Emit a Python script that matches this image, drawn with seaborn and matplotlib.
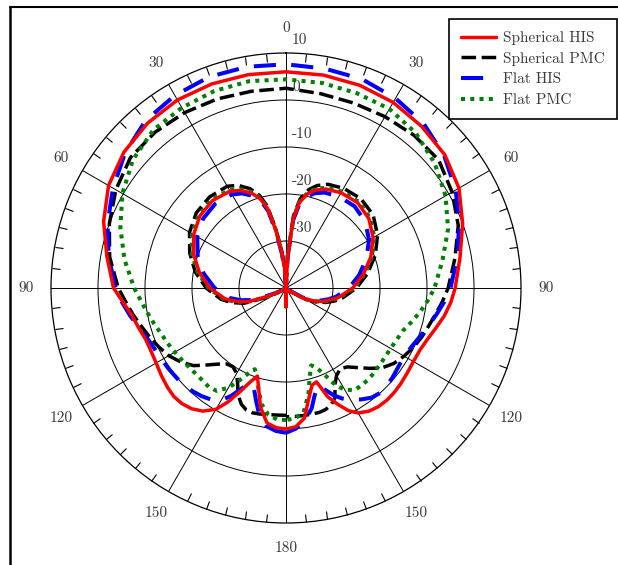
import numpy as np
import matplotlib
matplotlib.use("Agg")
import matplotlib.pyplot as plt
import matplotlib.transforms as mtransforms
from matplotlib.lines import Line2D
from matplotlib.ticker import FixedLocator
import seaborn as sns

# ---------------------------------------------------------------
# Radiation patterns (gain in dB) versus angle in degrees,
# 0 = broadside, positive angles to the right.
# ---------------------------------------------------------------
theta_main = [-180, -176, -172, -168, -165, -162, -159, -156, -153, -150,
              -146, -142, -138, -134, -130, -125, -120, -115, -110, -105,
              -100, -95, -90, -80, -70, -60, -50, -40, -30, -20, -10, 0,
              10, 20, 30, 40, 50, 60, 70, 80, 90, 95, 100, 105, 110, 115,
              120, 125, 130, 134, 138, 142, 146, 150, 153, 156, 159, 162,
              165, 168, 172, 176, 180]

sph_his_main = [-10.0, -10.2, -11.0, -14.0, -17.6, -20.3, -18.5, -15.8, -12.8, -10.2,
                -8.4, -7.4, -6.9, -6.8, -7.1, -7.6, -8.1, -8.3, -8.2, -7.5,
                -6.7, -5.2, -3.3, -1.3, 1.3, 3.6, 5.0, 5.8, 6.2, 6.2, 6.1, 6.0,
                6.0, 5.9, 5.6, 4.9, 4.1, 2.5, 0.0, -2.4, -4.0, -4.8, -5.8, -7.0, -8.0, -8.6,
                -8.7, -8.5, -8.2, -8.0, -7.9, -8.0, -8.4, -9.3, -10.7, -12.9, -15.2, -19.0,
                -18.6, -16.3, -12.0, -10.4, -10.0]

sph_pmc_main = [-12.9, -12.9, -12.8, -12.6, -12.5, -12.7, -13.5, -15.0, -17.3, -19.0,
                -19.8, -19.5, -18.2, -16.4, -14.3, -12.6, -11.2, -10.2, -9.2, -8.2,
                -7.0, -5.8, -4.3, -1.9, 0.0, 1.8, 3.2, 3.3, 3.1, 2.8, 2.5, 2.5,
                2.0, 1.9, 2.1, 2.4, 2.4, 0.8, -1.0, -3.5, -5.5, -6.6, -7.7, -8.6, -9.3, -10.1,
                -11.0, -12.0, -13.5, -15.4, -17.2, -18.7, -19.3, -18.5, -17.0, -14.4, -13.3, -12.8,
                -12.6, -12.6, -12.6, -12.6, -12.6]

flat_his_main = [-9.2, -9.5, -10.3, -12.5, -15.3, -17.8, -18.3, -16.5, -14.2, -12.5,
                 -11.4, -10.8, -10.4, -10.1, -9.9, -9.7, -9.5, -9.2, -8.6, -7.6,
                 -6.3, -5.0, -3.7, -1.7, 0.4, 2.5, 4.7, 6.5, 7.3, 7.8, 7.8, 7.6,
                 7.4, 7.3, 6.6, 5.6, 3.9, 1.7, -0.8, -3.0, -5.0, -6.2, -7.5, -8.7, -9.7, -10.5,
                 -11.0, -10.8, -10.4, -10.1, -10.0, -10.4, -11.4, -12.6, -13.6, -15.0, -16.8, -18.2,
                 -16.4, -13.8, -11.5, -10.0, -9.2]

flat_pmc_main = [-11.9, -12.0, -12.8, -14.8, -17.5, -20.0, -21.5, -20.0, -17.8, -15.5,
                 -13.6, -13.3, -13.5, -13.5, -13.4, -13.1, -12.7, -12.2, -11.7, -10.9,
                 -10.0, -9.0, -7.7, -5.1, -2.5, 0.2, 2.5, 3.9, 4.3, 4.6, 4.7, 4.4,
                 4.3, 4.1, 4.0, 3.0, 1.3, -0.8, -3.3, -6.2, -8.4, -9.7, -11.0, -12.3, -13.5, -14.0,
                 -14.3, -14.3, -14.2, -14.0, -13.8, -13.8, -13.8, -15.0, -16.8, -19.8, -21.8, -22.7,
                 -20.5, -17.0, -13.2, -12.2, -11.9]

theta_cross = [-180, -170, -160, -150, -140, -130, -120, -115, -110, -105,
               -100, -90, -80, -70, -60, -50, -40, -30, -25, -20,
               -16, -13, -10, -7, -4, 0, 3, 6, 9, 13,
               17, 22, 30, 40, 50, 60, 70, 80, 90, 100,
               105, 110, 115, 120, 130, 140, 150, 160, 170, 180]

sph_his_cross = [-36.0, -39.5, -40.0, -40.0, -40.0, -40.0, -38.5, -36.0, -31.5, -29.0,
                 -26.8, -23.8, -21.3, -19.1, -17.3, -16.1, -15.7, -16.2, -17.1, -18.5,
                 -20.3, -22.7, -27.5, -32.0, -35.5, -40.0, -33.0, -25.0, -21.5, -19.4,
                 -18.2, -17.3, -16.6, -16.3, -17.0, -18.6, -20.8, -23.3, -25.8, -28.6,
                 -30.2, -31.7, -33.5, -35.5, -39.0, -40.0, -40.0, -40.0, -39.5, -36.0]

sph_pmc_cross = [-40.0, -40.0, -40.0, -40.0, -40.0, -40.0, -38.0, -35.0, -30.5, -28.0,
                 -26.0, -23.0, -20.4, -18.2, -16.3, -15.1, -14.7, -15.0, -15.9, -17.5,
                 -19.5, -22.0, -27.0, -31.5, -35.5, -40.0, -33.0, -24.5, -20.8, -18.5,
                 -17.2, -16.2, -15.5, -15.2, -15.8, -17.5, -19.8, -22.4, -25.0, -27.8,
                 -29.3, -31.0, -33.0, -35.3, -39.0, -40.0, -40.0, -40.0, -40.0, -40.0]

flat_his_cross = [-40.0, -40.0, -40.0, -40.0, -40.0, -40.0, -39.0, -37.0, -32.5, -30.0,
                  -27.8, -24.8, -22.2, -20.0, -18.2, -17.0, -16.6, -17.0, -17.8, -19.1,
                  -20.8, -23.2, -28.0, -32.5, -36.0, -40.0, -33.5, -25.5, -22.0, -20.0,
                  -18.9, -18.1, -17.5, -17.3, -18.0, -19.6, -21.8, -24.2, -26.6, -29.2,
                  -30.7, -32.2, -34.0, -36.0, -39.5, -40.0, -40.0, -40.0, -40.0, -40.0]

flat_pmc_cross = [-40.0, -40.0, -40.0, -40.0, -40.0, -40.0, -38.3, -35.7, -31.2, -28.7,
                  -26.5, -23.5, -20.9, -18.7, -16.9, -15.8, -15.4, -15.9, -16.8, -18.2,
                  -20.0, -22.5, -27.3, -32.0, -35.5, -40.0, -33.0, -25.0, -21.3, -19.1,
                  -17.9, -17.0, -16.3, -16.0, -16.7, -18.3, -20.5, -23.0, -25.5, -28.3,
                  -29.9, -31.4, -33.2, -35.2, -39.0, -40.0, -40.0, -40.0, -40.0, -40.0]

labels = ["Spherical HIS", "Spherical PMC", "Flat HIS", "Flat PMC"]
r_ticks = [10, 0, -10, -20, -30]
theta_tick_deg = list(range(0, 360, 30))
theta_tick_labels = ["0", "30", "60", "90", "120", "150", "180",
                     "150", "120", "90", "60", "30"]

# ---------------------------------------------------------------
sns.set_style("white")
plt.rcParams["font.family"] = ["cmr10", "DejaVu Serif"]
plt.rcParams["axes.unicode_minus"] = False
text_color = "#3a3a3a"

fig = plt.figure(figsize=(6.18, 5.65), dpi=100)
ax = fig.add_axes([51 / 618, 42 / 565, 470 / 618, 470 / 565], projection="polar")
ax.set_theta_zero_location("N")
ax.set_theta_direction(-1)

styles = {
    "Spherical HIS": dict(color="#ff0000", lw=2.5, linestyle="-"),
    "Spherical PMC": dict(color="#000000", lw=2.5, linestyle=(0, (4.2, 1.6))),
    "Flat HIS": dict(color="#0000ff", lw=2.9, linestyle=(0, (5.5, 3.8))),
    "Flat PMC": dict(color="#008000", lw=2.9, linestyle=(0, (1.0, 1.3))),
}
draw_order = [("Spherical PMC", sph_pmc_main, sph_pmc_cross, 3),
              ("Flat HIS", flat_his_main, flat_his_cross, 4),
              ("Flat PMC", flat_pmc_main, flat_pmc_cross, 5),
              ("Spherical HIS", sph_his_main, sph_his_cross, 6)]

for name, main, cross, z in draw_order:
    st = styles[name]
    sns.lineplot(x=np.deg2rad(theta_main), y=main, ax=ax, sort=False,
                 estimator=None, zorder=z, **st)
    sns.lineplot(x=np.deg2rad(theta_cross), y=cross, ax=ax, sort=False,
                 estimator=None, zorder=z, **st)

ax.set_rlim(-40, 10)
ax.set_rgrids([-30, -20, -10, 0], labels=[""] * 4)
ax.set_thetagrids(theta_tick_deg, labels=theta_tick_labels)
ax.xaxis.set_minor_locator(FixedLocator(np.deg2rad(np.arange(0, 360, 5))))
# tick marks on the outer circle only, pointing inwards
ax.tick_params(axis="x", which="both", bottom=False, top=True,
               labelbottom=True, labeltop=False,
               direction="in", color="black",
               pad=11, labelsize=11, labelcolor=text_color)
ax.tick_params(axis="x", which="minor", length=6, width=0.8)
ax.tick_params(axis="x", which="major", length=0)
ax.tick_params(axis="y", which="both", length=0)
ax.grid(True, color="black", lw=0.7)
ax.set_axisbelow(True)
ax.spines["polar"].set_color("black")
ax.spines["polar"].set_linewidth(0.9)
ax.set_xlabel("")
ax.set_ylabel("")

# radial scale labels, just above each ring and right of the 0-degree spoke
off = mtransforms.offset_copy(ax.transData, fig=fig, x=6, y=13, units="dots")
for v in r_ticks:
    ax.text(0, v, str(v), transform=off, ha="left", va="center",
            fontsize=11, color=text_color, zorder=1)

handles = [Line2D([], [], **styles[n]) for n in labels]
leg = fig.legend(handles, labels, loc="upper right",
                 bbox_to_anchor=(617 / 618, 1 - 19 / 565),
                 bbox_transform=fig.transFigure,
                 frameon=True, fancybox=False, edgecolor="black",
                 framealpha=1, fontsize=11, handlelength=2.3,
                 handletextpad=0.5, labelspacing=0.45, borderpad=0.78,
                 borderaxespad=0)
leg.get_frame().set_linewidth(1.2)
for t in leg.get_texts():
    t.set_color(text_color)

# page frame along the top and left edges
fig.add_artist(Line2D([10 / 618, 10 / 618], [0, 1 - 7 / 565],
                      transform=fig.transFigure, color="black", lw=1.8))
fig.add_artist(Line2D([10 / 618, 1], [1 - 7 / 565, 1 - 7 / 565],
                      transform=fig.transFigure, color="black", lw=1.5))

fig.savefig("out.png", dpi=100, facecolor="white")
